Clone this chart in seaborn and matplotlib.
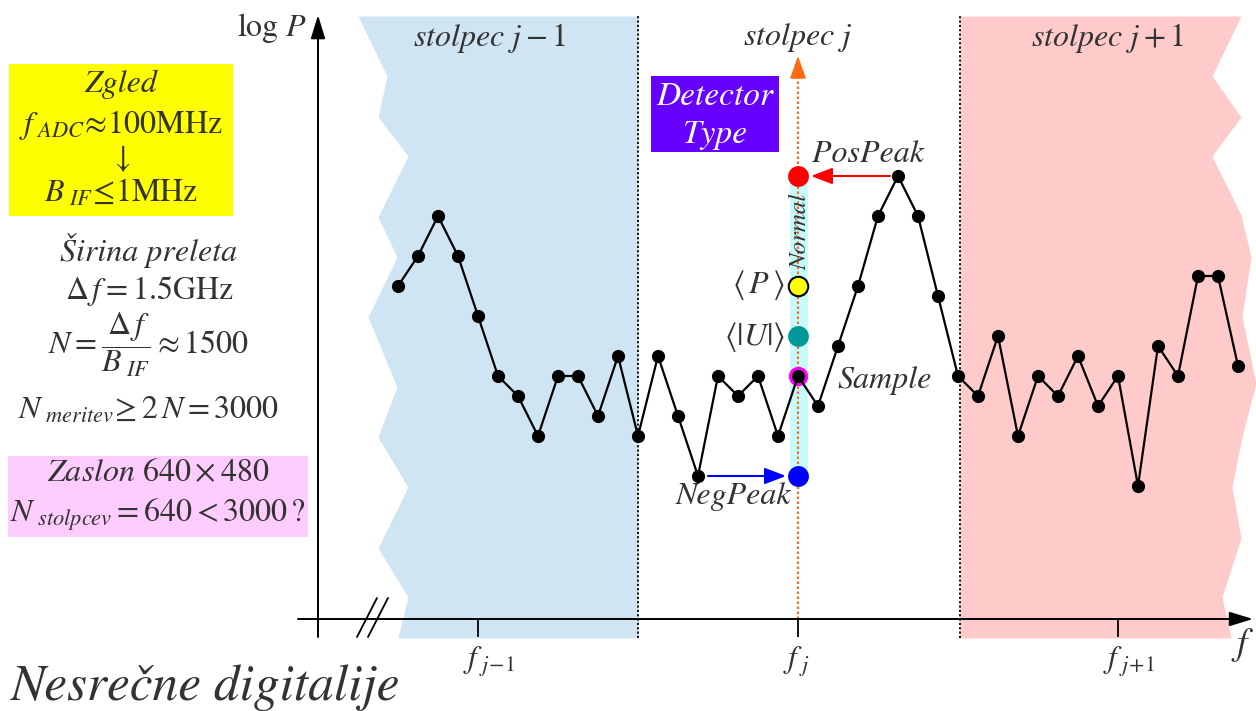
import numpy as np
import pandas as pd
import matplotlib
import seaborn as sns

matplotlib.use("Agg")
from matplotlib import pyplot as plt
from matplotlib.patches import Rectangle

# one reading per ADC sample, log power in arbitrary 10 px steps
sample_index = list(range(43))
log_power = [33, 36, 40, 36, 30, 24, 22, 18, 24, 24, 20, 26, 18, 26, 20, 14, 24, 22, 24, 18,
             24, 21, 27, 33, 40, 44, 40, 32, 24, 22, 28, 18, 24, 22, 26, 21, 24, 13, 27, 24,
             34, 34, 25]

column_edges = [12, 28.1]
column_centers = [4, 20, 36]
column_titles = ["stolpec $j-1$", "stolpec $j$", "stolpec $j+1$"]
title_x = [4.6, 20, 35.5]
tick_labels = [r"$f_{\ j\!-\!1}$", r"$f_{\ j}$", r"$f_{\ j\!+\!1}$"]

# what each detector reports for column j
detector_names = ["PosPeak", "avgP", "avgU", "Sample", "NegPeak"]
detector_values = [44, 33, 28, 24, 14]
detector_colors = ["#ff0000", "#ffff00", "#009999", "#ff00ff", "#0000ff"]

# torn edges of the neighbouring columns
blue_levels = [60, 54, 49.9, 46, 39.9, 35.9, 29.9, 22.9, 17.9, 12.9, 6.8, 1.9, -2.2]
blue_left = [-2, -0.55, -1, 0.5, -1, -0.05, -1.5, -0.05, -1, 0.5, -1, 0.5, 0]
pink_levels = [60, 54, 49.9, 46, 40.1, 35.9, 29.9, 23.3, 17.9, 12.9, 7.8, 1.9, -2.2]
pink_right = [42.15, 40.7, 42.15, 40.7, 42.15, 42.65, 42.2, 42.9, 42.2, 41.7, 42.15, 41.2, 41.65]

W, H = 1256, 711
TXT = "#333333"
ORANGE = "#ff6a13"

sns.set_style("white")
plt.rcParams["font.family"] = ["STIXGeneral", "DejaVu Serif"]
plt.rcParams["mathtext.fontset"] = "stix"

fig = plt.figure(figsize=(W / 100, H / 100), dpi=100)
ax = fig.add_axes([0, 0, 1, 1])
ax.set_xlim(-19.9, 42.9)
ax.set_ylim(-9.5, 61.6)
ax.axis("off")


def fpos(x, y):
    return x / W, 1 - y / H


# column backgrounds
ax.fill_betweenx(blue_levels, blue_left, column_edges[0], color="#cfe5f3", lw=0, zorder=0)
ax.fill_betweenx(pink_levels, column_edges[1], pink_right, color="#ffcaca", lw=0, zorder=0)
for e in column_edges:
    ax.plot([e, e], [-2.2, 60], color="black", ls=(0, (1.2, 1.2)), lw=1.3, zorder=1)

# detector span in column j
col = log_power[column_edges[0]:int(column_edges[1]) + 1]
ax.bar(column_centers[1], max(col) - min(col), bottom=min(col), width=0.95,
       color="#c6fbfb", zorder=1)
ax.plot([20, 20], [-0.3, 55], color=ORANGE, ls=(0, (1.2, 1.2)), lw=1.5, zorder=2)
ax.annotate("", xy=(20, 56), xytext=(20, 54),
            arrowprops=dict(arrowstyle="-|>,head_length=0.7,head_width=0.25",
                            color=ORANGE, lw=1.2, mutation_scale=20,
                            shrinkA=0, shrinkB=0))

# axes arrows
arrow_kw = dict(arrowstyle="-|>,head_length=0.72,head_width=0.22", color="black",
                lw=1.4, mutation_scale=20, shrinkA=0, shrinkB=0)
ax.annotate("", xy=(-4, 60.1), xytext=(-4, -2.1), arrowprops=arrow_kw, zorder=3)
ax.annotate("", xy=(42.75, -0.3), xytext=(-5, -0.3), arrowprops=arrow_kw, zorder=3)
ax.vlines(column_centers, -2.1, -0.3, color="black", lw=1.3, zorder=3)
for dx in (0, 0.55):
    ax.plot([-2.05 + dx, -1.05 + dx], [-2.1, 1.8], color="black", lw=1.3, zorder=3)

# sampled trace
trace = pd.DataFrame({"i": sample_index, "p": log_power})
sns.lineplot(data=trace, x="i", y="p", ax=ax, color="black", lw=1.6, marker="o",
             markersize=9.5, markeredgewidth=0, zorder=4)

# detector outputs
for name, val, c in zip(detector_names, detector_values, detector_colors):
    if name == "Sample":
        ax.plot(20, val, "o", ms=14, color=c, mew=0, zorder=3.5)
    elif name == "avgP":
        ax.plot(20, val, "o", ms=14, mfc=c, mec="black", mew=1.5, zorder=5)
    else:
        ax.plot(20, val, "o", ms=15, color=c, mew=0, zorder=5)

ax.annotate("", xy=(20.65, 44), xytext=(24.6, 44),
            arrowprops=dict(arrowstyle="-|>,head_length=0.65,head_width=0.25", color="#ff0000",
                            lw=1.5, mutation_scale=20, shrinkA=0, shrinkB=0), zorder=5)
ax.annotate("", xy=(19.4, 14), xytext=(15.5, 14),
            arrowprops=dict(arrowstyle="-|>,head_length=0.65,head_width=0.25", color="#0000ff",
                            lw=1.5, mutation_scale=20, shrinkA=0, shrinkB=0), zorder=5)

it = dict(fontstyle="italic", color=TXT, ha="center", va="center")
ax.text(23.5, 46.1, "PosPeak", fontsize=23, **it)
ax.text(18, 33.1, r"$\langle\, P\,\rangle$", fontsize=23, color=TXT, ha="center", va="center")
ax.text(17.85, 27.9, r"$\langle|U|\rangle$", fontsize=23, color=TXT, ha="center", va="center")
ax.text(24.35, 23.5, "Sample", fontsize=23, **it)
ax.text(16.75, 11.9, "NegPeak", fontsize=23, **it)
ax.text(20.1, 38.4, "Normal", fontsize=18, rotation=90, **it)

ax.add_patch(Rectangle((12.65, 46.4), 6.4, 7.6, color="#6600ff", lw=0, zorder=5))
ax.text(15.85, 51.9, "Detector", fontsize=24, fontstyle="italic", color="white",
        ha="center", va="center", zorder=6)
ax.text(15.85, 48.1, "Type", fontsize=24, fontstyle="italic", color="white",
        ha="center", va="center", zorder=6)

for x, t in zip(title_x, column_titles):
    ax.text(x, 57.8, t, fontsize=23, **it)
for x, t in zip(column_centers, tick_labels):
    ax.text(x - 0.75, -4.6, t, fontsize=23, color=TXT, ha="left", va="center")
ax.text(42.25, -2.9, "$f$", fontsize=27, color=TXT, ha="center", va="center")
fig.text(*fpos(272, 28), r"log $P$", fontsize=23, color=TXT, ha="center", va="center")

# left panel
fig.add_artist(Rectangle(fpos(9, 216), 224 / W, 152 / H, transform=fig.transFigure,
                         color="#ffff00", lw=0, zorder=1))
fig.add_artist(Rectangle(fpos(8, 537), 300 / W, 81 / H, transform=fig.transFigure,
                         color="#ffccff", lw=0, zorder=1))
lt = dict(fontsize=23, color=TXT, ha="center", va="center")
fig.text(*fpos(121, 84), "Zgled", fontstyle="italic", **lt)
fig.text(*fpos(121, 125), r"$f_{\ ADC}\!\approx\!100\mathrm{MHz}$", **lt)
fig.text(*fpos(121, 158), r"$\downarrow$", **lt)
fig.text(*fpos(121, 193), r"$B_{\ IF}\!\leq\!1\mathrm{MHz}$", **lt)
fig.text(*fpos(149, 250), "Širina preleta", fontstyle="italic", **lt)
fig.text(*fpos(149, 291), r"$\Delta\,f=1.5\mathrm{GHz}$", **lt)
fig.text(*fpos(149, 345), r"$N=\dfrac{\Delta\,f}{B_{\ IF}}\approx1500$", **lt)
fig.text(*fpos(148, 410), r"$N_{\ meritev}\!\geq 2\,N=3000$", **lt)
fig.text(*fpos(158, 474), r"Zaslon $640\times480$", fontstyle="italic", **lt)
fig.text(*fpos(158, 515), r"$N_{\ stolpcev}=640<3000\,?$", **lt)

fig.text(*fpos(10, 688), "Nesrečne digitalije", fontsize=37, fontstyle="italic",
         color=TXT, ha="left", va="center")

fig.savefig("out.png", dpi=100)
